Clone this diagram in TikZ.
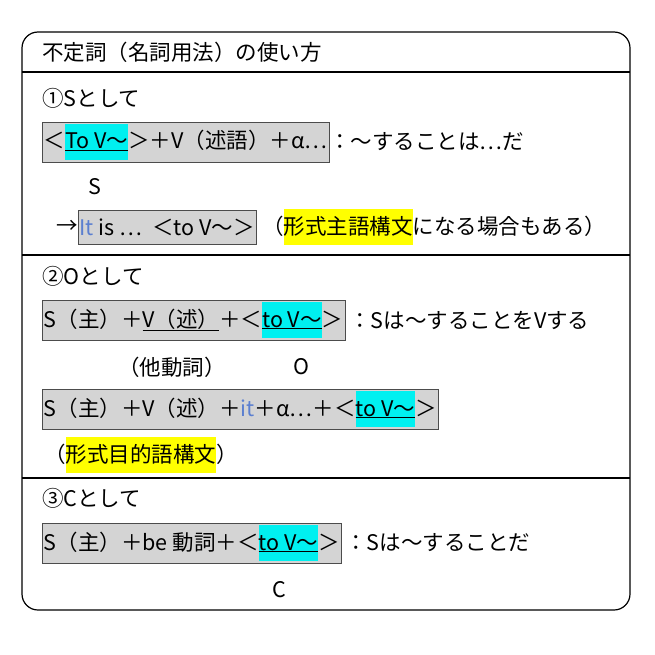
\documentclass[tikz,border=0pt]{standalone}
\usepackage{fontspec}
\setmainfont{Noto Sans CJK JP}
\usepackage{xcolor}
\definecolor{hlcyan}{HTML}{00F0F0}
\definecolor{hlyel}{HTML}{FFFF00}
\definecolor{itblue}{HTML}{5B7FD0}
\newcommand{\hlx}[2]{{\setlength\fboxsep{0pt}\colorbox{#1}{\rule[-11pt]{0pt}{36pt}#2}}}
\newcommand{\ulx}[1]{\underline{#1}}
\begin{document}
\begin{tikzpicture}[x=1pt,y=-1pt,
  txt/.style={anchor=west,inner sep=0pt,font=\fontsize{21.5}{24}\selectfont},
  gbox/.style={txt,draw=black!70,fill=black!17,inner sep=1.5pt,minimum height=40pt}]
\useasboundingbox (0,0) rectangle (655,655);
\draw[line width=1.2pt,rounded corners=16pt] (22,32) rectangle (630,610);
\draw[line width=1.1pt] (22,72) -- (630,72) (22,255) -- (630,255) (22,478) -- (630,478);
\node[txt] (title) at (42,52) {不定詞（名詞用法）の使い方};
\node[txt] (h1) at (42,98) {①Sとして};
\node[gbox] (b1) at (42,142) {＜\hlx{hlcyan}{\ulx{To V～}}＞＋V（述語）＋α…};
\node[txt] (t1) at (b1.east) {：～することは…だ};
\node[txt] (s1) at (88,187) {S};
\node[txt] (ar) at (56,227) {→};
\node[gbox,minimum height=34pt] (b2) at (ar.east) {\textcolor{itblue}{It} is …\ \ ＜to V～＞};
\node[txt] (t2) at ([xshift=6pt]b2.east) {（\hlx{hlyel}{形式主語構文}になる場合もある）};
\node[txt] (h2) at (42,276) {②Oとして};
\node[gbox] (b3) at (42,320) {S（主）＋\ulx{V（述）}＋＜\hlx{hlcyan}{\ulx{to V～}}＞};
\node[txt] (t3) at ([xshift=4pt]b3.east) {：Sは～することをVする};
\node[txt] (vt) at (118,367) {（他動詞）};
\node[txt] (o) at (293,367) {O};
\node[gbox] (b4) at (42,409) {S（主）＋V（述）＋\textcolor{itblue}{it}＋α…＋＜\hlx{hlcyan}{\ulx{to V～}}＞};
\node[txt] (t4) at (44,455) {（\hlx{hlyel}{形式目的語構文}）};
\node[txt] (h3) at (42,498) {③Cとして};
\node[gbox] (b5) at (42,543) {S（主）＋be 動詞＋＜\hlx{hlcyan}{\ulx{to V～}}＞};
\node[txt] (t5) at ([xshift=4pt]b5.east) {：Sは～することだ};
\node[txt] (c) at (272,590) {C};
\end{tikzpicture}
\end{document}
